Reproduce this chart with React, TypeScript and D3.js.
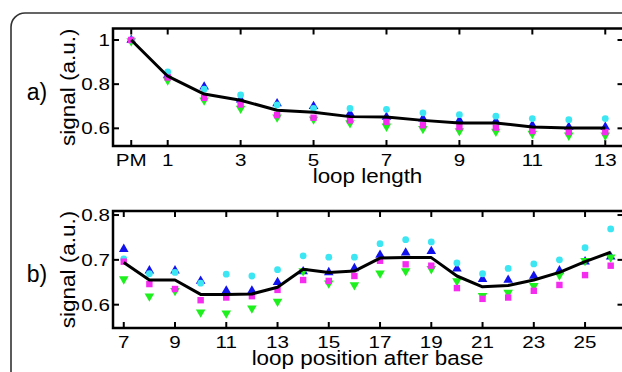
import * as d3 from "d3";
import { useEffect, useRef } from "react";

const W = 622;
const H = 372;
const FONT = "'Liberation Sans', Arial, Helvetica, sans-serif";

// panel a: loop length
const lenX = [0, 1, 2, 3, 4, 5, 6, 7, 8, 9, 10, 11, 12, 13];
const lenTicks = [0, 1, 3, 5, 7, 9, 11, 13];
const lenTickLabels = ["PM", "1", "3", "5", "7", "9", "11", "13"];
const lenYTicks = [0.6, 0.8, 1];
const lenYLabels = ["0.6", "0.8", "1"];
const aBlue = [1.0, 0.84, 0.788, 0.73, 0.712, 0.7, 0.667, 0.651, 0.644, 0.636, 0.632, 0.614, 0.606, 0.606];
const aGreen = [0.995, 0.818, 0.727, 0.69, 0.65, 0.641, 0.624, 0.609, 0.598, 0.588, 0.586, 0.576, 0.568, 0.568];
const aCyan = [1.0, 0.856, 0.777, 0.751, 0.706, 0.69, 0.69, 0.686, 0.67, 0.662, 0.655, 0.644, 0.639, 0.644];
const aMagenta = [1.0, 0.83, 0.738, 0.708, 0.66, 0.648, 0.636, 0.629, 0.614, 0.606, 0.603, 0.588, 0.583, 0.583];
const aMean = [1.0, 0.836, 0.755, 0.727, 0.682, 0.673, 0.653, 0.651, 0.636, 0.624, 0.624, 0.606, 0.601, 0.601];

// panel b: loop position after base
const posX = [7, 8, 9, 10, 11, 12, 13, 14, 15, 16, 17, 18, 19, 20, 21, 22, 23, 24, 25, 26];
const posTicks = [7, 9, 11, 13, 15, 17, 19, 21, 23, 25];
const posYTicks = [0.6, 0.7, 0.8];
const posYLabels = ["0.6", "0.7", "0.8"];
const bBlue = [0.724, 0.676, 0.676, 0.653, 0.631, 0.631, 0.65, 0.674, 0.672, 0.681, 0.711, 0.716, 0.719, 0.68, 0.657, 0.655, 0.664, 0.676, 0.696, 0.707];
const bGreen = [0.657, 0.619, 0.631, 0.583, 0.581, 0.592, 0.607, 0.675, 0.648, 0.644, 0.67, 0.675, 0.68, 0.653, 0.62, 0.627, 0.642, 0.666, 0.698, 0.706];
const bCyan = [0.702, 0.669, 0.672, 0.648, 0.668, 0.664, 0.678, 0.709, 0.706, 0.706, 0.736, 0.745, 0.74, 0.693, 0.669, 0.681, 0.691, 0.7, 0.727, 0.769];
const bMagenta = [0.696, 0.646, 0.635, 0.61, 0.616, 0.619, 0.633, 0.655, 0.653, 0.664, 0.698, 0.69, 0.687, 0.637, 0.613, 0.616, 0.631, 0.644, 0.666, 0.687];
const bMean = [0.694, 0.655, 0.655, 0.623, 0.623, 0.624, 0.639, 0.679, 0.672, 0.675, 0.704, 0.705, 0.705, 0.664, 0.64, 0.643, 0.655, 0.672, 0.696, 0.717];

const BLUE = "#1212ee";
const GREEN = "#1ef01e";
const CYAN = "#3ce6f2";
const MAGENTA = "#f52cf0";

type Panel = {
  tag: string;
  xs: number[];
  xDomain: [number, number];
  yDomain: [number, number];
  top: number;
  bottom: number;
  xTicks: number[];
  xTickLabels: string[];
  yTicks: number[];
  yTickLabels: string[];
  xLabel: string;
  blue: number[];
  green: number[];
  cyan: number[];
  magenta: number[];
  mean: number[];
};

const panels: Panel[] = [
  {
    tag: "a)",
    xs: lenX,
    xDomain: [-0.5, 13.5],
    yDomain: [0.52, 1.052],
    top: 28.5,
    bottom: 146,
    xTicks: lenTicks,
    xTickLabels: lenTickLabels,
    yTicks: lenYTicks,
    yTickLabels: lenYLabels,
    xLabel: "loop length",
    blue: aBlue,
    green: aGreen,
    cyan: aCyan,
    magenta: aMagenta,
    mean: aMean,
  },
  {
    tag: "b)",
    xs: posX,
    xDomain: [6.58, 26.5],
    yDomain: [0.548, 0.809],
    top: 211,
    bottom: 328,
    xTicks: posTicks,
    xTickLabels: posTicks.map(String),
    yTicks: posYTicks,
    yTickLabels: posYLabels,
    xLabel: "loop position after base",
    blue: bBlue,
    green: bGreen,
    cyan: bCyan,
    magenta: bMagenta,
    mean: bMean,
  },
];

function label(
  g: d3.Selection<SVGGElement, unknown, null, undefined>,
  x: number,
  y: number,
  str: string,
  size: number,
  sx: number,
  anchor: string,
  rotate = 0
) {
  g.append("text")
    .attr("transform", `translate(${x},${y}) rotate(${rotate}) scale(${sx},1)`)
    .attr("text-anchor", anchor)
    .attr("font-family", FONT)
    .attr("font-size", size)
    .attr("fill", "#000")
    .text(str);
}

export default function App() {
  const ref = useRef<SVGSVGElement>(null);

  useEffect(() => {
    const svg = d3.select(ref.current);
    svg.selectAll("*").remove();

    svg.append("rect").attr("width", W).attr("height", H).attr("fill", "#fff");

    // outer rounded frame, running off the right and bottom
    svg
      .append("rect")
      .attr("x", 11)
      .attr("y", 13)
      .attr("width", 700)
      .attr("height", 500)
      .attr("rx", 14)
      .attr("fill", "none")
      .attr("stroke", "#333")
      .attr("stroke-width", 1.6);

    const left = 113;
    const right = 623.5;

    panels.forEach((p) => {
      const g = svg.append("g");
      const x = d3.scaleLinear().domain(p.xDomain).range([left, right]);
      const y = d3.scaleLinear().domain(p.yDomain).range([p.bottom, p.top]);

      const tick = 6;
      p.xTicks.forEach((t) => {
        g.append("line")
          .attr("x1", x(t)).attr("x2", x(t))
          .attr("y1", p.bottom).attr("y2", p.bottom - tick)
          .attr("stroke", "#000").attr("stroke-width", 2);
        g.append("line")
          .attr("x1", x(t)).attr("x2", x(t))
          .attr("y1", p.top).attr("y2", p.top + tick)
          .attr("stroke", "#000").attr("stroke-width", 2);
      });
      p.yTicks.forEach((t) => {
        g.append("line")
          .attr("x1", left).attr("x2", left + tick)
          .attr("y1", y(t)).attr("y2", y(t))
          .attr("stroke", "#000").attr("stroke-width", 2);
        g.append("line")
          .attr("x1", right).attr("x2", right - tick)
          .attr("y1", y(t)).attr("y2", y(t))
          .attr("stroke", "#000").attr("stroke-width", 2);
      });

      const sym = (type: d3.SymbolType, size: number) => d3.symbol().type(type).size(size)()!;
      const idx = p.xs.map((_, i) => i);

      g.selectAll(".blue")
        .data(idx)
        .join("path")
        .attr("d", sym(d3.symbolTriangle, 40))
        .attr("transform", (i) => `translate(${x(p.xs[i])},${y(p.blue[i])})`)
        .attr("fill", BLUE);
      g.selectAll(".green")
        .data(idx)
        .join("path")
        .attr("d", sym(d3.symbolTriangle, 40))
        .attr("transform", (i) => `translate(${x(p.xs[i])},${y(p.green[i])}) rotate(180)`)
        .attr("fill", GREEN);
      g.selectAll(".cyan")
        .data(idx)
        .join("circle")
        .attr("cx", (i) => x(p.xs[i]))
        .attr("cy", (i) => y(p.cyan[i]))
        .attr("r", 3.4)
        .attr("fill", CYAN);
      g.selectAll(".magenta")
        .data(idx)
        .join("rect")
        .attr("x", (i) => x(p.xs[i]) - 3.2)
        .attr("y", (i) => y(p.magenta[i]) - 3.2)
        .attr("width", 6.4)
        .attr("height", 6.4)
        .attr("fill", MAGENTA);

      const line = d3
        .line<number>()
        .x((i) => x(p.xs[i]))
        .y((i) => y(p.mean[i]));
      g.append("path")
        .attr("d", line(idx))
        .attr("fill", "none")
        .attr("stroke", "#000")
        .attr("stroke-width", 3)
        .attr("stroke-linejoin", "round");

      // axes box
      g.append("rect")
        .attr("x", left)
        .attr("y", p.top)
        .attr("width", right - left)
        .attr("height", p.bottom - p.top)
        .attr("fill", "none")
        .attr("stroke", "#000")
        .attr("stroke-width", 2.5);

      p.xTicks.forEach((t, i) => {
        label(g, x(t), p.bottom + 20, p.xTickLabels[i], 16.5, 1.25, "middle");
      });
      p.yTicks.forEach((t, i) => {
        label(g, left - 3, y(t) + 6, p.yTickLabels[i], 16.5, 1.25, "end");
      });

      const mid = (p.top + p.bottom) / 2;
      label(g, (left + 622) / 2, p.bottom + 37, p.xLabel, 19.5, 1.15, "middle");
      label(g, 75, mid, "signal (a.u.)", 20.5, 1.1, "middle", -90);
      label(g, 37, mid + 12.5, p.tag, 23, 1, "middle");
    });
  }, []);

  return (
    <svg
      ref={ref}
      width={W}
      height={H}
      style={{ position: "absolute", left: 0, top: 0 }}
    />
  );
}
